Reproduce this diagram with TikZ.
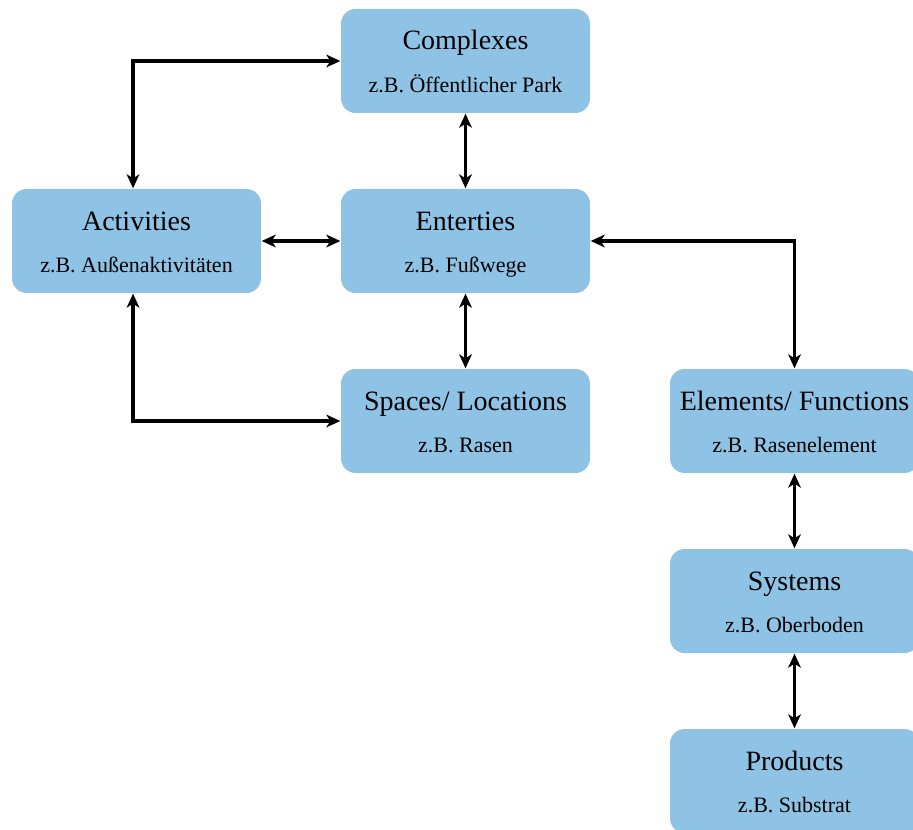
\documentclass[tikz,border=0pt]{standalone}
\usepackage{fontspec}
\setmainfont{Liberation Serif}
\usetikzlibrary{arrows.meta}
\definecolor{boxblue}{HTML}{8FC3E6}
\tikzset{
  box/.style={rectangle, rounded corners=11pt, fill=boxblue, minimum width=186.75pt, minimum height=78pt, inner sep=0pt},
  ttl/.style={anchor=base, font=\fontsize{21}{24}\selectfont, inner sep=0pt},
  sub/.style={anchor=base, font=\fontsize{16.5}{19}\selectfont, inner sep=0pt},
  tip/.style={Stealth[length=10.5pt,width=9.5pt,inset=3pt]},
  conn/.style={line width=2.5pt, {Stealth[length=10.5pt,width=9.5pt,inset=3pt]}-{Stealth[length=10.5pt,width=9.5pt,inset=3pt]}, shorten <=0.3pt, shorten >=0.3pt}
}
\begin{document}
\begin{tikzpicture}[x=0.75pt,y=-0.75pt]
\useasboundingbox (0,0) rectangle (913,830);
\node[box] (cx) at (465.5,61) {};
\node[box] (act) at (136.5,241) {};
\node[box] (en) at (465.5,241) {};
\node[box] (sp) at (465.5,421) {};
\node[box] (el) at (794.5,421) {};
\node[box] (sy) at (794.5,601) {};
\node[box] (pr) at (794.5,781) {};
\node[ttl] (cxt) at ([yshift=-30.75pt]cx.north) {Complexes};
\node[sub] (cxs) at ([yshift=-63pt]cx.north) {z.B. Öffentlicher Park};
\node[ttl] (actt) at ([yshift=-31.5pt]act.north) {Activities};
\node[sub] (acts) at ([yshift=-63pt]act.north) {z.B. Außenaktivitäten};
\node[ttl] (ent) at ([yshift=-31.5pt]en.north) {Enterties};
\node[sub] (ens) at ([yshift=-63pt]en.north) {z.B. Fußwege};
\node[ttl] (spt) at ([yshift=-31.5pt]sp.north) {Spaces/ Locations};
\node[sub] (sps) at ([yshift=-63pt]sp.north) {z.B. Rasen};
\node[ttl] (elt) at ([yshift=-31.5pt]el.north) {Elements/ Functions};
\node[sub] (els) at ([yshift=-63pt]el.north) {z.B. Rasenelement};
\node[ttl] (syt) at ([yshift=-31.5pt]sy.north) {Systems};
\node[sub] (sys) at ([yshift=-63pt]sy.north) {z.B. Oberboden};
\node[ttl] (prt) at ([yshift=-31.5pt]pr.north) {Products};
\node[sub] (prs) at ([yshift=-63pt]pr.north) {z.B. Substrat};
\draw[conn] (cx.south) -- (en.north);
\draw[conn] (en.south) -- (sp.north);
\draw[conn] (act.east) -- (en.west);
\draw[conn] ([xshift=-2.6pt]act.north) |- (cx.west);
\draw[conn] ([xshift=-2.6pt]act.south) |- (sp.west);
\draw[conn] (en.east) -| (el.north);
\draw[conn] (el.south) -- (sy.north);
\draw[conn] (sy.south) -- (pr.north);
\end{tikzpicture}
\end{document}
